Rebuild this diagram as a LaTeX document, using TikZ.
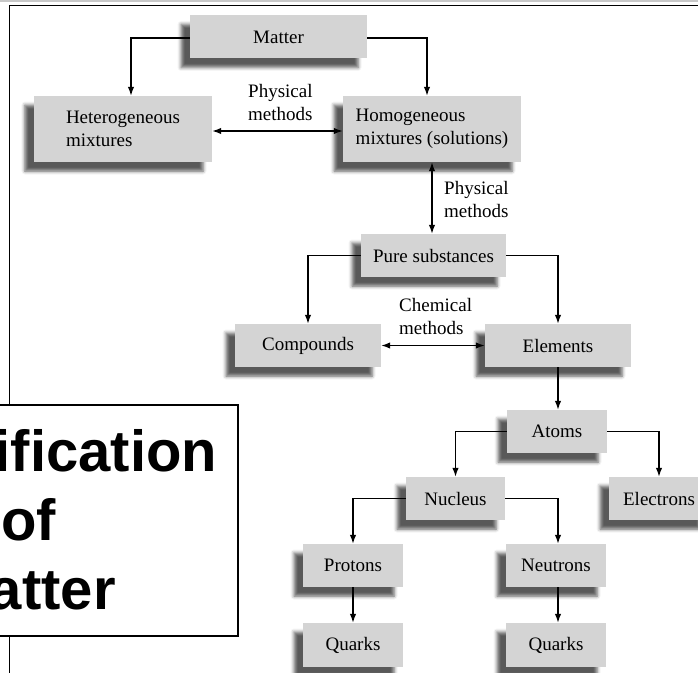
\documentclass[tikz,border=0pt]{standalone}
\usepackage{fontspec}
\setmainfont{Liberation Serif}
\newfontfamily\titlefont{Liberation Sans}
\usetikzlibrary{arrows.meta,shadows.blur}
\definecolor{boxgray}{RGB}{212,212,212}
\definecolor{rulegray}{RGB}{200,200,200}
\begin{document}
\begin{tikzpicture}[x=1bp,y=-1bp,
  box/.style={fill=boxgray, minimum width=#1, minimum height=43bp, inner sep=0pt,
    font=\fontsize{19bp}{23bp}\selectfont, align=left,
    blur shadow={shadow xshift=-9bp, shadow yshift=-9bp, shadow blur radius=3.5bp, shadow opacity=65}},
  box/.default=100bp,
  lbl/.style={inner sep=0pt, font=\fontsize{19bp}{23bp}\selectfont, align=left},
  arr/.style={-{Latex[length=9bp,width=6.5bp]}, line width=1.4bp},
  darr/.style={{Latex[length=9bp,width=6.5bp]}-{Latex[length=9bp,width=6.5bp]}, line width=1.4bp}]
\useasboundingbox (0,0) rectangle (698,673);
\clip (0,0) rectangle (698,673);
% page frame
\coordinate (g1) at (0,0.8); \coordinate (g2) at (698,0.8);
\draw[rulegray, line width=1.6bp] (g1) -- (g2);
\coordinate (f1) at (9.5,673); \coordinate (f2) at (9.5,5.5); \coordinate (f3) at (698,5.5);
\draw[line width=1.6bp] (f1) -- (f2) -- (f3);
% nodes
\node[box=177bp] (matter) at (278.5,37) {Matter};
\node[box=178bp, minimum height=66bp] (hetero) at (123,129) {Heterogeneous\\mixtures};
\node[box=178bp, minimum height=66bp] (homo) at (432,129) {Homogeneous\\mixtures (solutions)};
\node[box=145bp] (pure) at (433.5,255.5) {Pure substances};
\node[box=146bp] (comp) at (308,345.5) {Compounds};
\node[box=146bp] (elem) at (558,345.5) {Elements};
\node[box=100bp] (atoms) at (557,431.5) {Atoms};
\node[box=99bp] (nucl) at (455.5,498.5) {Nucleus};
\node[box=100bp] (elec) at (659,498.5) {Electrons};
\node[box=100bp] (prot) at (353,565.5) {Protons};
\node[box=100bp] (neut) at (556,565.5) {Neutrons};
\node[box=100bp, minimum height=44bp] (qL) at (353,645) {Quarks};
\node[box=100bp, minimum height=44bp] (qR) at (556,645) {Quarks};
% labels
\node[lbl, anchor=west] (l1) at (248,103) {Physical\\methods};
\node[lbl, anchor=west] (l2) at (444,199.5) {Physical\\methods};
\node[lbl, anchor=west] (l3) at (399,316.5) {Chemical\\methods};
% connectors
\draw[arr] ([yshift=-1bp]matter.west) -| ([xshift=8bp]hetero.north);
\draw[arr] ([yshift=-1bp]matter.east) -| ([xshift=-5bp]homo.north);
\draw[darr] ([yshift=-2bp]hetero.east) -- ([yshift=-2bp]homo.west);
\draw[darr] (homo.south) -- (homo.south |- pure.north);
\draw[arr] (pure.west) -| (comp.north);
\draw[arr] (pure.east) -| (elem.north);
\draw[darr] (comp.east) -- (elem.west);
\draw[arr] (elem.south) -- (elem.south |- atoms.north);
\draw[arr] (atoms.west) -| (nucl.north);
\draw[arr] (atoms.east) -| (elec.north);
\draw[arr] (nucl.west) -| (prot.north);
\draw[arr] (nucl.east) -| ([xshift=2bp]neut.north);
\draw[arr] (prot.south) -- (qL.north);
\draw[arr] ([xshift=2bp]neut.south) -- ([xshift=2bp]qR.north);
% title box
\node[draw, line width=2bp, fill=white, minimum width=418bp, minimum height=231bp, inner sep=0pt] (tbox) at (29,520.5) {};
\node[inner sep=0pt, align=center, font=\titlefont\bfseries\fontsize{58bp}{69bp}\selectfont] (ttext) at (28.6,520) {Classification\\of\\Matter};
\end{tikzpicture}
\end{document}
